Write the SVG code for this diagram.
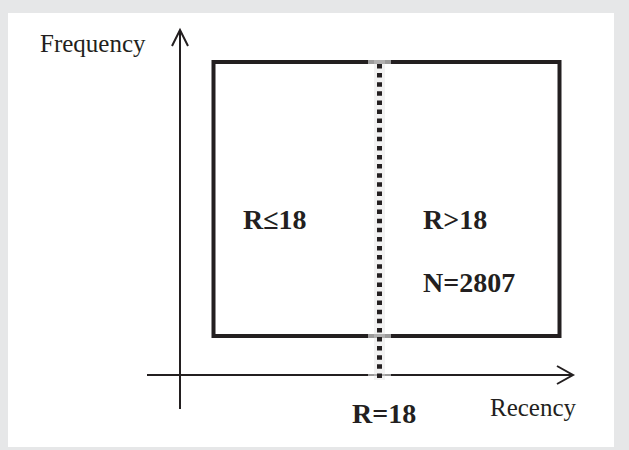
<svg xmlns="http://www.w3.org/2000/svg" width="629" height="450" viewBox="0 0 629 450">
<defs>
<style>
.axis{stroke:#231f20;stroke-width:2;fill:none}
.head{stroke:#231f20;stroke-width:2;fill:none;stroke-linejoin:miter}
.box{stroke:#231f20;stroke-width:4;fill:none;stroke-linejoin:miter}
.lbl{font-family:"Liberation Serif","Times New Roman",serif;fill:#231f20}
.b{font-weight:bold;font-size:28px}
.r{font-size:25px}
</style>
</defs>
<rect x="0" y="0" width="629" height="450" fill="#e6e7e8"/>
<rect x="8" y="13" width="606" height="434" fill="#ffffff"/>
<g id="connectors">
<line class="axis" x1="180" y1="30" x2="180" y2="409"/>
<polyline class="head" points="172,46 180,30 188,46"/>
<line class="axis" x1="147" y1="375" x2="573" y2="375"/>
<polyline class="head" points="557,366 573,375 557,384"/>
</g>
<g id="box">
<rect class="box" x="213.5" y="62" width="346" height="274"/>
</g>
<g id="divider">
<rect x="368" y="59" width="23" height="320" fill="#ffffff" opacity="0.55"/>
<rect x="374" y="60" width="11" height="320" fill="#d9d9d9" opacity="0.35"/>
<line x1="379.5" y1="64" x2="379.5" y2="378" stroke="#231f20" stroke-width="5" stroke-dasharray="4.5 4.6"/>
</g>
<g id="labels">
<text class="lbl r" x="40" y="52">Frequency</text>
<text class="lbl r" x="490" y="416">Recency</text>
<text class="lbl b" x="352" y="423">R=18</text>
<text class="lbl b" x="243" y="229">R≤18</text>
<text class="lbl b" x="423" y="229">R&gt;18</text>
<text class="lbl b" x="423" y="292">N=2807</text>
</g>
</svg>
